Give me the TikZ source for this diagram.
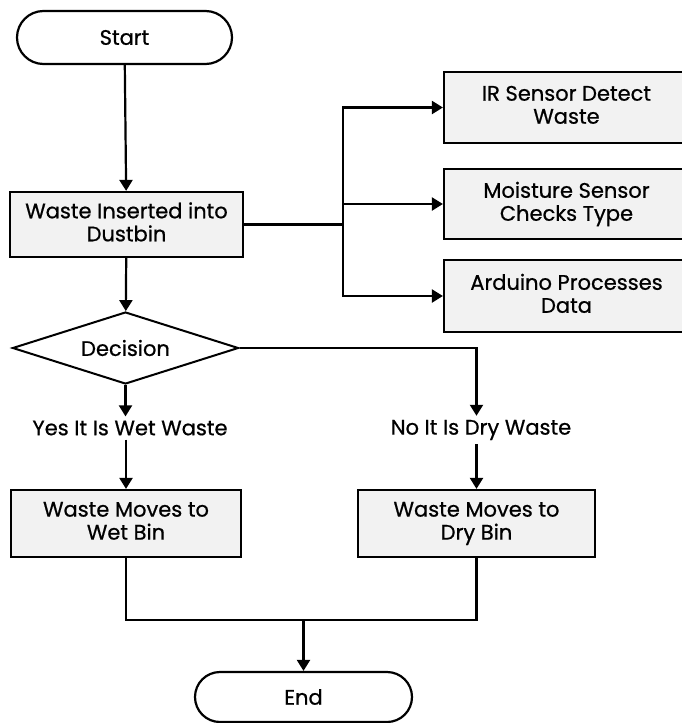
\documentclass[tikz,border=0pt]{standalone}
\usepackage{fontspec}
\setmainfont{Poppins}[FakeBold=0.7]
\usepackage{tikz}
\usetikzlibrary{positioning, shapes.geometric, shapes.misc, arrows.meta}

\definecolor{boxgray}{HTML}{F2F2F2}

\begin{document}
\begin{tikzpicture}[x=1pt, y=-1pt,
	every node/.style={font=\fontsize{21}{23}\selectfont, align=center},
	proc/.style={draw, line width=2.2pt, fill=boxgray, minimum height=67pt, inner sep=0pt},
	term/.style={draw, line width=2.2pt, fill=white, rounded rectangle, minimum height=53pt, inner sep=0pt},
	dec/.style={draw, line width=2pt, fill=white, diamond, aspect=3.1, inner sep=1pt, minimum width=226pt, minimum height=72pt},
	lbl/.style={inner sep=4pt},
	arr/.style={line width=2.2pt, -{Triangle[width=13pt,length=11pt]}},
	ln/.style={line width=2.2pt}]
	\useasboundingbox[fill=white] (0,0) rectangle (681,723);
	%
	\node[term, minimum width=215pt] (start) at (124.5,37.5) {Start};
	\node[proc, minimum width=233pt, minimum height=65pt] (ins) at (126.5,224.5) {Waste Inserted into\\Dustbin\vphantom{y}};
	%
	\node[proc, minimum width=245pt, minimum height=71pt] (ir) at (566.5,107.5) {IR Sensor Detect\\Waste\vphantom{y}};
	\node[proc, minimum width=245pt, minimum height=70pt] (moist) at (566.5,204) {Moisture Sensor\\Checks Type};
	\node[proc, minimum width=245pt, minimum height=72pt] (ard) at (566.5,296) {Arduino Processes\\Data\vphantom{y}};
	\coordinate (split) at (343,224.5);
	%
	\node[dec] (decision) at (125.5,348) {Decision};
	\node[lbl] (yes) at (130,428) {Yes It Is Wet Waste};
	\node[lbl] (no) at (481,430) {No It Is Dry Waste};
	%
	\node[proc, minimum width=230pt] (wet) at (126,523.5) {Waste Moves to\\Wet Bin\vphantom{y}};
	\node[proc, minimum width=237pt] (dry) at (476.5,523.5) {Waste Moves to\\Dry Bin};
	\coordinate (join) at (303.5,620);
	\node[term, minimum width=217pt, minimum height=50pt] (end) at (303.5,697) {End};
	%
	\draw[arr] (start) -- (ins);
	\draw[ln] (ins.east) -- (split);
	\draw[arr] (split) |- (ir.west);
	\draw[arr] (split) -- (moist.west -| split) -- (moist.west);
	\draw[arr] (split) |- (ard.west);
	\draw[ln] (ir.west -| split) -- (ard.west -| split);
	%
	\draw[arr] (ins) -- (decision);
	\draw[arr] (decision.south) -- (yes.north -| decision.south);
	\draw[arr] (decision.east) -| (dry.north |- no.north);
	\draw[arr] (yes.south -| wet.north) -- (wet.north);
	\draw[arr] (dry.north |- no.south) -- (dry.north);
	%
	\draw[ln] (wet.south) |- (join) -| (dry.south);
	\draw[arr] (join) -- (end);
\end{tikzpicture}
\end{document}
